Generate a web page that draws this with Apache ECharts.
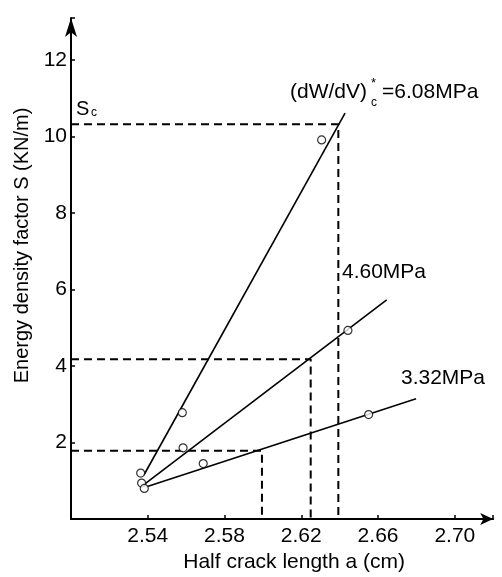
<!DOCTYPE html>
<html><head><meta charset="utf-8">
<script src="https://cdn.jsdelivr.net/npm/echarts@6/dist/echarts.min.js"></script>
<style>html,body{margin:0;padding:0;background:#fff}#c{width:502px;height:577px}</style>
</head><body><div id="c"></div>
<script>
// ---- data ----
const xTicks = [2.54, 2.58, 2.62, 2.66, 2.70];
const yTicks = [2, 4, 6, 8, 10, 12];
// measured points (open circles)
const points608 = [[2.5363, 1.20], [2.5580, 2.78], [2.6306, 9.91]];
const points460 = [[2.5368, 0.94], [2.5584, 1.86], [2.6443, 4.93]];
const points332 = [[2.5382, 0.80], [2.5689, 1.45], [2.6551, 2.73]];
// fitted straight lines (start / end)
const fit608 = [[2.538, 1.15], [2.6428, 10.61]];
const fit460 = [[2.538, 0.90], [2.6645, 5.73]];
const fit332 = [[2.5394, 0.845], [2.6798, 3.145]];
// critical values (dashed guides)
const critS = [10.32, 4.175, 1.786];
const critA = [2.6393, 2.6249, 2.5995];
const seriesNames = ['6.08MPa', '4.60MPa', '3.32MPa'];

const X_MIN = 2.50, X_MAX = 2.72, Y_MIN = 0, Y_MAX = 13.1;
const FONT = '"Liberation Sans", Arial, Helvetica, sans-serif';

const chart = echarts.init(document.getElementById('c'), null, {renderer: 'canvas'});

function near(v, arr) { return arr.some(t => Math.abs(v - t) < 1e-6); }

const fitStyle = {color: '#000', width: 1.6};
const dashStyle = {color: '#000', width: 2, type: [8, 5]};
const pointStyle = {color: '#fff', borderColor: '#000', borderWidth: 1.2};

const series = [];
[fit608, fit460, fit332].forEach((d, i) => {
  series.push({name: seriesNames[i] + ' fit', type: 'line', data: d, symbol: 'none',
    lineStyle: fitStyle, z: 3, silent: true});
});
critS.forEach((s, i) => {
  series.push({name: seriesNames[i] + ' critical', type: 'line',
    data: [[X_MIN, s], [critA[i], s], [critA[i], Y_MIN]],
    symbol: 'none', lineStyle: dashStyle, z: 2, silent: true});
});
[points608, points460, points332].forEach((d, i) => {
  series.push({name: seriesNames[i], type: 'scatter', data: d, symbol: 'circle',
    symbolSize: 8, itemStyle: pointStyle, z: 5});
});

chart.setOption({
  animation: false,
  backgroundColor: '#fff',
  grid: {left: 71, right: 8.8, top: 17.9, bottom: 58, outerBoundsMode: 'none', containLabel: false},
  xAxis: {
    type: 'value', min: X_MIN, max: X_MAX, interval: 0.04,
    name: 'Half crack length a (cm)', nameLocation: 'middle', nameGap: 30,
    nameTextStyle: {fontSize: 21, color: '#000', fontFamily: FONT, padding: [0, 0, 0, 24]},
    axisLine: {show: true, symbol: ['none', 'arrow'], symbolSize: [9, 13],
      lineStyle: {color: '#000', width: 2}},
    axisTick: {show: true, inside: true, length: 4, lineStyle: {color: '#000', width: 1.5}},
    axisLabel: {fontSize: 21, color: '#000', fontFamily: FONT, margin: 7,
      formatter: v => near(v, xTicks) ? v.toFixed(2) : ''},
    splitLine: {show: false}
  },
  yAxis: {
    type: 'value', min: Y_MIN, max: Y_MAX, interval: 2,
    name: 'Energy density factor S (KN/m)', nameLocation: 'middle', nameGap: 37, nameRotate: 90,
    nameTextStyle: {fontSize: 20, color: '#000', fontFamily: FONT, padding: [0, 0, 0, 46]},
    axisLine: {show: true, symbol: ['none', 'arrow'], symbolSize: [9, 19],
      lineStyle: {color: '#000', width: 2}},
    axisTick: {show: true, inside: true, length: 4, lineStyle: {color: '#000', width: 1.5}},
    axisLabel: {fontSize: 21, color: '#000', fontFamily: FONT, margin: 4,
      formatter: v => near(v, yTicks) ? String(v) : ''},
    splitLine: {show: false}
  },
  graphic: [
    {type: 'text', left: 290, top: 82, style: {text: '(dW/dV)', font: '21px ' + FONT, fill: '#000'}},
    {type: 'text', left: 371, top: 77, style: {text: '*', font: '13px ' + FONT, fill: '#000'}},
    {type: 'text', left: 371, top: 97, style: {text: 'c', font: '12px ' + FONT, fill: '#000'}},
    {type: 'text', left: 382, top: 82, style: {text: '=6.08MPa', font: '21px ' + FONT, fill: '#000'}},
    {type: 'text', left: 342, top: 262, style: {text: '4.60MPa', font: '21px ' + FONT, fill: '#000'}},
    {type: 'text', left: 401, top: 368, style: {text: '3.32MPa', font: '21px ' + FONT, fill: '#000'}},
    {type: 'text', left: 76, top: 99, style: {text: 'S', font: '20px ' + FONT, fill: '#000'}},
    {type: 'text', left: 91, top: 107, style: {text: 'c', font: '12px ' + FONT, fill: '#000'}}
  ],
  series: series
});
</script>
</body></html>
